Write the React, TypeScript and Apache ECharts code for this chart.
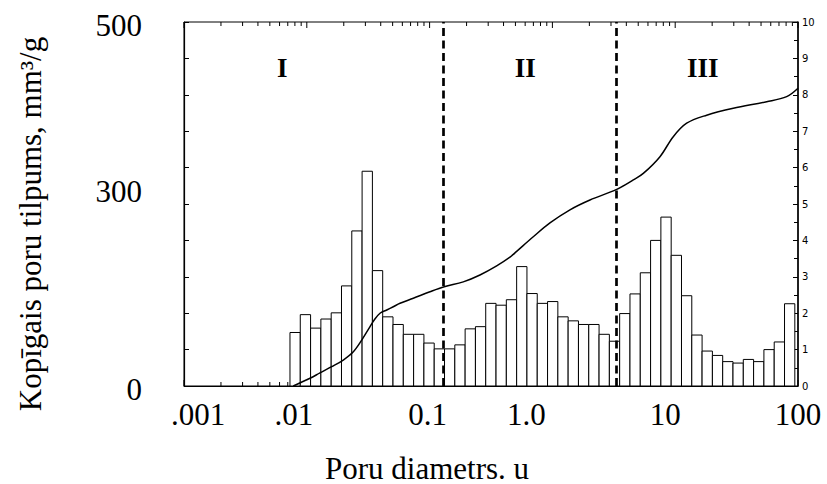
import React, { useEffect, useRef } from "react";
import * as echarts from "echarts";

// x axis (pore diameter, log scale) tick labels
const xTickValues = [0.001, 0.01, 0.1, 1, 10, 100];
const xTickLabels = [".001", ".01", "0.1", "1.0", "10", "100"];
// left axis labels shown
const leftLabelValues = [0, 300, 500];

// histogram: log-spaced bins (in log10 of diameter) and bar heights (right axis units)
const histFirstBinLog = -2.137;
const histBinLogWidth = 0.0839;
const histValues = [
  1.47, 1.96, 1.59, 1.84, 2.01, 2.75, 4.26, 5.9, 3.17, 1.9,
  1.69, 1.42, 1.42, 1.18, 1.02, 1.02, 1.13, 1.57, 1.63, 2.27,
  2.22, 2.37, 3.28, 2.54, 2.27, 2.32, 1.9, 1.79, 1.69, 1.69,
  1.42, 1.23, 1.99, 2.53, 3.11, 4.0, 4.64, 3.59, 2.48, 1.4,
  0.96, 0.84, 0.67, 0.63, 0.73, 0.67, 1.0, 1.21, 2.26,
];

// cumulative pore volume curve (mm3/g)
const cumDiameters = [
  0.00776, 0.01062, 0.0128, 0.01595, 0.01982, 0.02393, 0.028, 0.03273, 0.0354,
  0.03945, 0.04477, 0.0506, 0.05743, 0.07366, 0.1007, 0.1317, 0.188, 0.257, 0.3516,
  0.4515, 0.5117, 0.6986, 0.955, 1.39, 2.022, 3.34, 4.56, 5.498, 7.516, 9.642, 12.4,
  18.04, 29.71, 55.56, 80.86, 100,
];
const cumVolumes = [
  0, 10.6, 18, 26.5, 35.7, 47, 63, 81.5, 90.7,
  99.9, 104.4, 108.9, 113.6, 120.5, 129.5, 136.4, 143, 152.5, 165,
  177, 185, 205, 224, 242, 255.5, 270, 283, 292, 315, 342.5, 361,
  372, 381.5, 390.5, 397.5, 409,
];

// region boundaries and names
const boundaries = [0.133, 3.3];
const regionNames = ["I", "II", "III"];
const regionCenters = [0.0063, 0.6, 16.8];
const regionLevel = 437;

const minorTickMultipliers = [1, 2, 3, 4, 5, 6, 7, 8, 9];

// visual nudges for the pasted-looking x labels (px, + = right)
const xLabelNudge = [14, -13, -2, -26, -10, 0];

const SERIF = "'Liberation Serif', 'Times New Roman', serif";

export default function App() {
  const ref = useRef<HTMLDivElement>(null);

  useEffect(() => {
    if (!ref.current) return;
    const chart = echarts.init(ref.current, null, { renderer: "svg" });

    const histData = histValues.map((v, i) => [
      Math.pow(10, histFirstBinLog + i * histBinLogWidth),
      Math.pow(10, histFirstBinLog + (i + 1) * histBinLogWidth),
      v,
    ]);
    const cumData = cumDiameters.map((d, i) => [d, cumVolumes[i]]);

    const tickData: number[][] = [];
    for (let k = -3; k <= 1; k++) {
      minorTickMultipliers.forEach((m) => tickData.push([m * Math.pow(10, k), 0, m === 1 ? 1 : 0]));
    }
    tickData.push([100, 0, 1]);

    const xRich: any = {};
    xLabelNudge.forEach((d, i) => {
      xRich["n" + i] = {
        fontSize: 31,
        fontFamily: SERIF,
        color: "#000",
        padding: d >= 0 ? [0, 0, 0, 2 * d] : [0, -2 * d, 0, 0],
      };
    });

    const option: any = {
      animation: false,
      backgroundColor: "#fff",
      grid: {
        left: 184,
        right: 29,
        top: 22,
        bottom: 98,
        show: true,
        borderColor: "#000",
        borderWidth: 1,
        containLabel: false,
        outerBoundsMode: "none",
      },
      xAxis: {
        type: "log",
        min: 0.001,
        max: 100,
        logBase: 10,
        splitNumber: 5,
        axisLine: { show: true, lineStyle: { color: "#000", width: 1 } },
        axisTick: { show: false },
        splitLine: { show: false },
        minorTick: { show: false },
        axisLabel: {
          margin: 13,
          showMinLabel: true,
          showMaxLabel: true,
          fontSize: 31,
          fontFamily: SERIF,
          color: "#000",
          formatter: (v: number) => {
            const i = Math.round(Math.log10(v)) + 3;
            if (i < 0 || i >= xTickLabels.length) return "";
            return "{n" + i + "|" + xTickLabels[i] + "}";
          },
          rich: xRich,
        },
      },
      yAxis: [
        {
          type: "value",
          min: 0,
          max: 500,
          interval: 50,
          position: "left",
          axisLine: { show: true, lineStyle: { color: "#000", width: 1.2 } },
          axisTick: { show: true, inside: true, length: 5, lineStyle: { color: "#000" } },
          splitLine: { show: false },
          axisLabel: {
            margin: 42,
            fontSize: 31,
            fontFamily: SERIF,
            color: "#000",
            formatter: (v: number) => {
              if (!leftLabelValues.includes(v)) return "";
              return (v === 300 ? "{b|" : "{a|") + v + "}";
            },
            rich: {
              a: { fontSize: 31, fontFamily: SERIF, color: "#000", padding: [7, 0, 0, 0] },
              b: { fontSize: 31, fontFamily: SERIF, color: "#000", padding: [48, 0, 0, 0] },
            },
          },
        },
        {
          type: "value",
          min: 0,
          max: 10,
          interval: 1,
          position: "right",
          axisLine: { show: true, lineStyle: { color: "#000", width: 1.5 } },
          axisTick: { show: true, inside: true, length: 5, lineStyle: { color: "#000" } },
          minorTick: { show: true, splitNumber: 2, length: 4, lineStyle: { color: "#000" } },
          splitLine: { show: false },
          axisLabel: {
            margin: 4,
            fontSize: 10,
            fontFamily: "'DejaVu Sans', sans-serif",
            color: "#000",
          },
        },
      ],
      series: [
        {
          type: "custom",
          name: "ticks",
          xAxisIndex: 0,
          yAxisIndex: 0,
          silent: true,
          clip: false,
          encode: { x: 0, y: 1 },
          data: tickData,
          renderItem: (params: any, api: any) => {
            const x = api.coord([api.value(0), 0])[0];
            const cs = params.coordSys;
            const len = api.value(2) ? 6 : 4;
            const st = { stroke: "#000", lineWidth: 1 };
            return {
              type: "group",
              children: [
                { type: "line", shape: { x1: x, y1: cs.y, x2: x, y2: cs.y + len }, style: st },
                {
                  type: "line",
                  shape: { x1: x, y1: cs.y + cs.height, x2: x, y2: cs.y + cs.height - len },
                  style: st,
                },
              ],
            };
          },
        },
        {
          type: "custom",
          name: "histogram",
          xAxisIndex: 0,
          yAxisIndex: 1,
          silent: true,
          encode: { x: [0, 1], y: 2 },
          data: histData,
          renderItem: (params: any, api: any) => {
            const p0 = api.coord([api.value(0), 0]);
            const p1 = api.coord([api.value(1), api.value(2)]);
            return {
              type: "rect",
              shape: { x: p0[0], y: p1[1], width: p1[0] - p0[0], height: p0[1] - p1[1] },
              style: { fill: "#fff", stroke: "#000", lineWidth: 1 },
            };
          },
        },
        {
          type: "line",
          name: "cumulative",
          xAxisIndex: 0,
          yAxisIndex: 0,
          data: cumData,
          smooth: 0.35,
          showSymbol: false,
          symbol: "none",
          lineStyle: { color: "#000", width: 1.5 },
          markLine: {
            silent: true,
            symbol: ["none", "none"],
            label: { show: false },
            lineStyle: { color: "#000", type: [8, 4.5], width: 2.7 },
            data: boundaries.map((b) => ({ xAxis: b })),
          },
          z: 5,
        },
        {
          type: "custom",
          name: "regions",
          xAxisIndex: 0,
          yAxisIndex: 0,
          silent: true,
          encode: { x: 0, y: 1 },
          data: regionCenters.map((c, i) => [c, regionLevel, i]),
          renderItem: (params: any, api: any) => {
            const p = api.coord([api.value(0), api.value(1)]);
            return {
              type: "text",
              x: p[0],
              y: p[1],
              style: {
                text: regionNames[api.value(2)],
                fontSize: 27,
                fontWeight: "bold",
                fontFamily: SERIF,
                fill: "#000",
                align: "center",
                verticalAlign: "middle",
              },
            };
          },
        },
      ],
      graphic: [
        {
          type: "text",
          x: 30,
          y: 224,
          rotation: Math.PI / 2,
          style: {
            text: "Kopīgais poru tilpums, mm³/g",
            fontSize: 31,
            fontFamily: SERIF,
            fill: "#000",
            align: "center",
            verticalAlign: "middle",
          },
        },
        {
          type: "text",
          x: 427,
          y: 468,
          style: {
            text: "Poru diametrs. u",
            fontSize: 31,
            fontFamily: SERIF,
            fill: "#000",
            align: "center",
            verticalAlign: "middle",
          },
        },
      ],
    };

    chart.setOption(option);
    return () => chart.dispose();
  }, []);

  return (
    <div
      ref={ref}
      style={{ position: "fixed", left: 0, top: 0, width: 827, height: 484, background: "#fff" }}
    />
  );
}
